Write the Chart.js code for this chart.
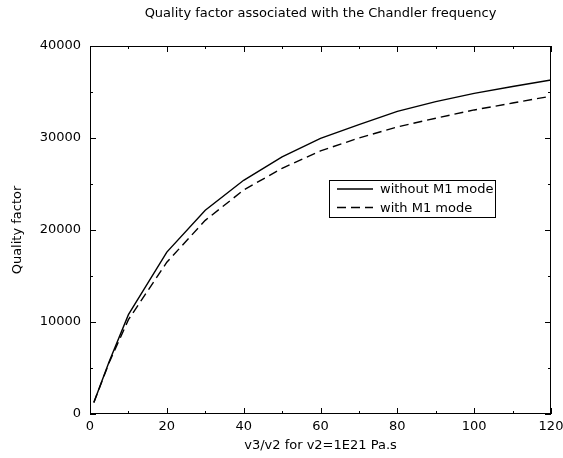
<!DOCTYPE html>
<html>
<head>
<meta charset="utf-8">
<script src="https://cdn.jsdelivr.net/npm/chart.js@4.4.0/dist/chart.umd.min.js"></script>
<style>
  body { margin: 0; background: #fff; }
  canvas { display: block; }
</style>
</head>
<body>
<canvas id="chart" width="563" height="458"></canvas>
<script>
// v3/v2 ratio
const ratio = [1, 5, 10, 20, 30, 40, 50, 60, 70, 80, 90, 100, 110, 120];
// quality factor, without / with the M1 mode
const withoutM1 = [1250, 5700, 10800, 17600, 22150, 25400, 27950, 29950, 31450, 32900, 33950, 34850, 35600, 36300];
const withM1 = [1250, 5600, 10250, 16500, 21050, 24350, 26700, 28600, 30000, 31200, 32150, 33050, 33800, 34550];
const seriesNames = ['without M1 mode', 'with M1 mode'];

const FONT = "'DejaVu Sans', sans-serif";

// cadre + graduations vers l'intérieur sur les 4 côtés
const frameTicks = {
    id: 'frameTicks',
    afterDraw(chart) {
        const { ctx, chartArea: a, scales: { x, y } } = chart;
        ctx.save();
        ctx.strokeStyle = '#000';
        ctx.lineWidth = 1;
        ctx.strokeRect(a.left + 0.5, a.top + 0.5, a.right - a.left - 1, a.bottom - a.top - 1);
        ctx.beginPath();
        x.ticks.forEach(t => {
            const px = Math.round(x.getPixelForValue(t.value)) + 0.5;
            const len = t.value % 20 === 0 ? 6 : 3;
            ctx.moveTo(px, a.bottom); ctx.lineTo(px, a.bottom - len);
            ctx.moveTo(px, a.top); ctx.lineTo(px, a.top + len);
        });
        y.ticks.forEach(t => {
            const py = Math.round(y.getPixelForValue(t.value)) + 0.5;
            const len = t.value % 10000 === 0 ? 6 : 3;
            ctx.moveTo(a.left, py); ctx.lineTo(a.left + len, py);
            ctx.moveTo(a.right, py); ctx.lineTo(a.right - len, py);
        });
        ctx.stroke();
        ctx.restore();
    }
};

// légende encadrée dans la zone du graphe
const boxLegend = {
    id: 'boxLegend',
    afterDraw(chart) {
        const { ctx, chartArea: a } = chart;
        const bx = a.left + 239, by = a.top + 134, bw = 166, bh = 37;
        ctx.save();
        ctx.fillStyle = '#fff';
        ctx.fillRect(bx, by, bw, bh);
        ctx.strokeStyle = '#000';
        ctx.lineWidth = 1;
        ctx.strokeRect(bx + 0.5, by + 0.5, bw, bh);
        ctx.font = '13px ' + FONT;
        ctx.fillStyle = '#000';
        ctx.textBaseline = 'middle';
        chart.data.datasets.forEach((ds, i) => {
            const ly = by + 9 + i * 18.5;
            ctx.beginPath();
            ctx.setLineDash(ds.borderDash || []);
            ctx.lineWidth = ds.borderWidth;
            ctx.moveTo(bx + 8, ly);
            ctx.lineTo(bx + 44, ly);
            ctx.stroke();
            ctx.setLineDash([]);
            ctx.fillText(ds.label, bx + 51, ly + 1);
        });
        ctx.restore();
    }
};

const toPoints = vals => vals.map((v, i) => ({ x: ratio[i], y: v }));

new Chart(document.getElementById('chart'), {
    type: 'line',
    data: {
        datasets: [
            {
                label: seriesNames[0],
                data: toPoints(withoutM1),
                borderColor: '#000',
                borderWidth: 1.4,
                pointRadius: 0,
                tension: 0,
                fill: false
            },
            {
                label: seriesNames[1],
                data: toPoints(withM1),
                borderColor: '#000',
                borderWidth: 1.4,
                borderDash: [9, 5],
                pointRadius: 0,
                tension: 0,
                fill: false
            }
        ]
    },
    options: {
        responsive: false,
        animation: false,
        layout: { padding: { left: 0, right: 12, top: 0, bottom: 0 } },
        plugins: {
            legend: { display: false },
            tooltip: { enabled: false },
            title: {
                display: true,
                fullSize: false,
                text: 'Quality factor associated with the Chandler frequency',
                color: '#000',
                font: { family: FONT, size: 13, weight: 'normal' },
                padding: { top: 6, bottom: 24.4 }
            }
        },
        scales: {
            x: {
                type: 'linear',
                min: 0,
                max: 120,
                grid: { display: false, drawTicks: false },
                border: { display: false },
                ticks: {
                    stepSize: 10,
                    padding: 5,
                    color: '#000',
                    maxRotation: 0,
                    autoSkip: false,
                    font: { family: FONT, size: 13 },
                    callback: v => (v % 20 === 0 ? v : '')
                },
                title: {
                    display: true,
                    text: 'v3/v2 for v2=1E21 Pa.s',
                    color: '#000',
                    font: { family: FONT, size: 13 },
                    padding: { top: 0, bottom: 5 }
                },
                afterFit: s => { s.height = 44; s.paddingLeft = 0; s.paddingRight = 0; }
            },
            y: {
                min: 0,
                max: 40000,
                grid: { display: false, drawTicks: false },
                border: { display: false },
                ticks: {
                    stepSize: 5000,
                    padding: 9,
                    color: '#000',
                    autoSkip: false,
                    font: { family: FONT, size: 13 },
                    callback: v => (v % 10000 === 0 ? v : '')
                },
                title: {
                    display: true,
                    text: 'Quality factor',
                    color: '#000',
                    font: { family: FONT, size: 13 },
                    padding: { top: 10, bottom: 0 }
                },
                afterFit: s => { s.width = 90; }
            }
        }
    },
    plugins: [frameTicks, boxLegend]
});
</script>
</body>
</html>
